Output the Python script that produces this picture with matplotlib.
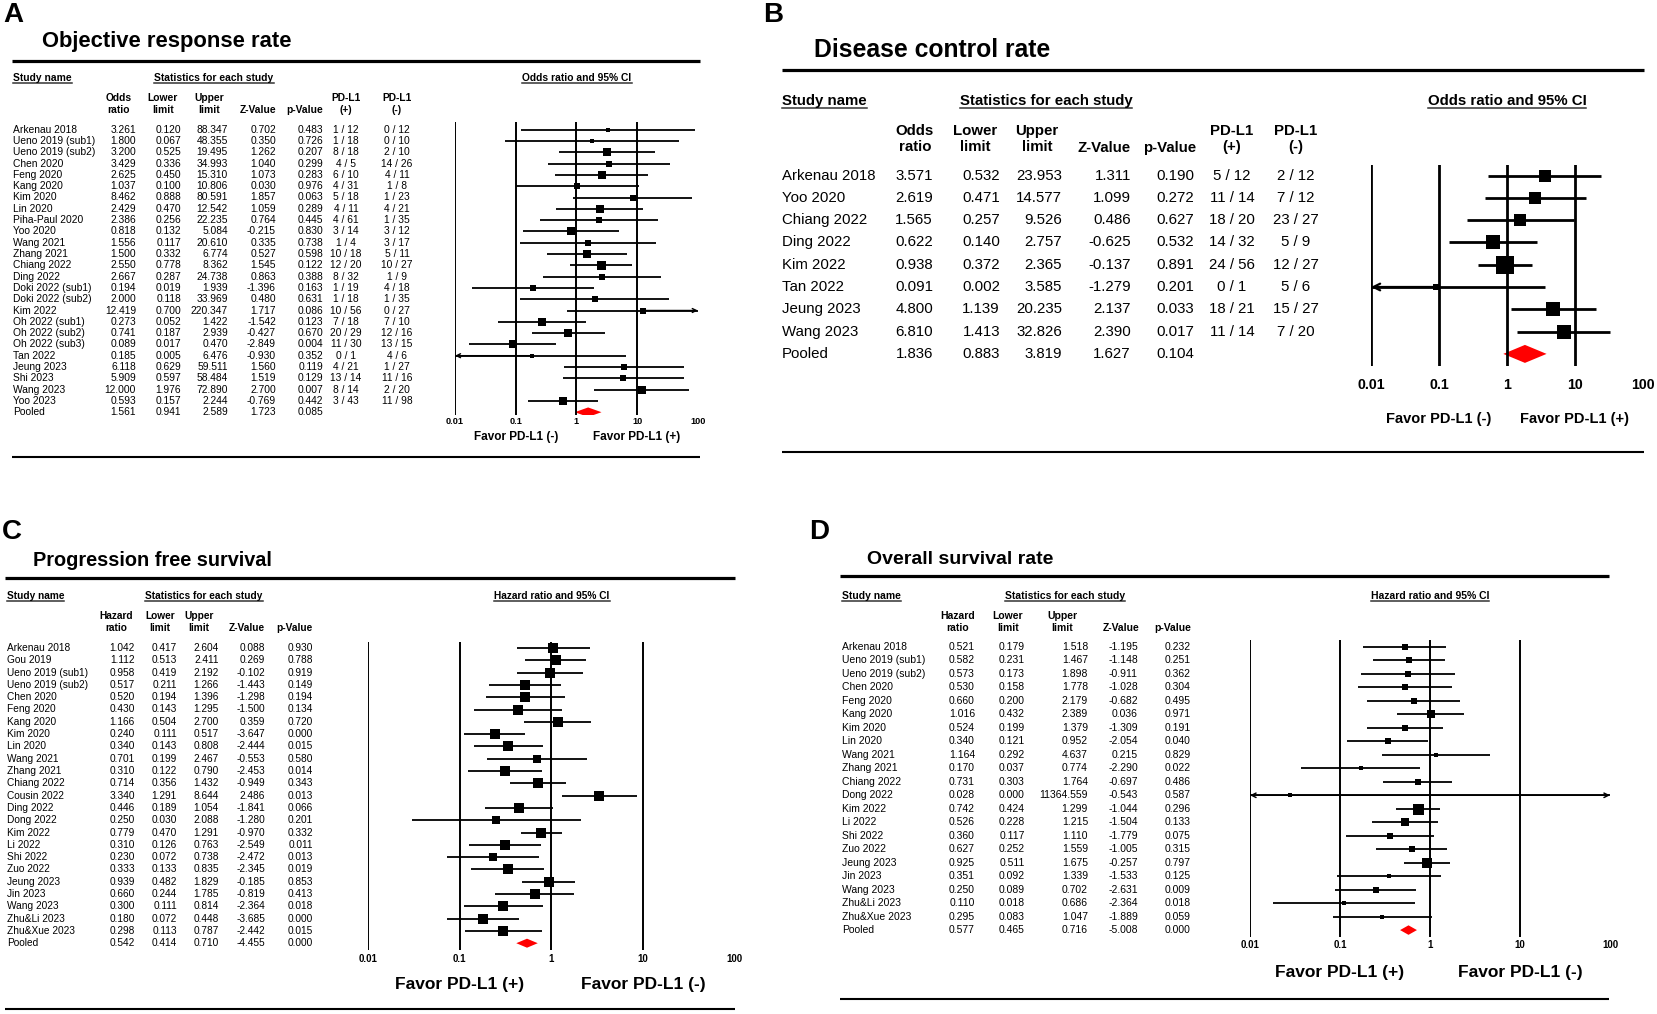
import numpy as np
import matplotlib
matplotlib.use("Agg")
import matplotlib.pyplot as plt
from matplotlib.transforms import blended_transform_factory as btf
from matplotlib.patches import Polygon
from matplotlib.lines import Line2D

# ------------------------------------------------------------------ data
tick_values = [0.01, 0.1, 1, 10, 100]
tick_labels = ["0.01", "0.1", "1", "10", "100"]

# Panel A: Objective response rate
a_study = ["Arkenau 2018", "Ueno 2019 (sub1)", "Ueno 2019 (sub2)", "Chen 2020", "Feng 2020",
           "Kang 2020", "Kim 2020", "Lin 2020", "Piha-Paul 2020", "Yoo 2020", "Wang 2021",
           "Zhang 2021", "Chiang 2022", "Ding 2022", "Doki 2022 (sub1)", "Doki 2022 (sub2)",
           "Kim 2022", "Oh 2022 (sub1)", "Oh 2022 (sub2)", "Oh 2022 (sub3)", "Tan 2022",
           "Jeung 2023", "Shi 2023", "Wang 2023", "Yoo 2023", "Pooled"]
a_or = [3.261, 1.800, 3.200, 3.429, 2.625, 1.037, 8.462, 2.429, 2.386, 0.818, 1.556, 1.500,
        2.550, 2.667, 0.194, 2.000, 12.419, 0.273, 0.741, 0.089, 0.185, 6.118, 5.909, 12.000,
        0.593, 1.561]
a_lower = [0.120, 0.067, 0.525, 0.336, 0.450, 0.100, 0.888, 0.470, 0.256, 0.132, 0.117, 0.332,
           0.778, 0.287, 0.019, 0.118, 0.700, 0.052, 0.187, 0.017, 0.005, 0.629, 0.597, 1.976,
           0.157, 0.941]
a_upper = [88.347, 48.355, 19.495, 34.993, 15.310, 10.806, 80.591, 12.542, 22.235, 5.084,
           20.610, 6.774, 8.362, 24.738, 1.939, 33.969, 220.347, 1.422, 2.939, 0.470, 6.476,
           59.511, 58.484, 72.890, 2.244, 2.589]
a_z = [0.702, 0.350, 1.262, 1.040, 1.073, 0.030, 1.857, 1.059, 0.764, -0.215, 0.335, 0.527,
       1.545, 0.863, -1.396, 0.480, 1.717, -1.542, -0.427, -2.849, -0.930, 1.560, 1.519, 2.700,
       -0.769, 1.723]
a_p = [0.483, 0.726, 0.207, 0.299, 0.283, 0.976, 0.063, 0.289, 0.445, 0.830, 0.738, 0.598,
       0.122, 0.388, 0.163, 0.631, 0.086, 0.123, 0.670, 0.004, 0.352, 0.119, 0.129, 0.007,
       0.442, 0.085]
a_pos = ["1 / 12", "1 / 18", "8 / 18", "4 / 5", "6 / 10", "4 / 31", "5 / 18", "4 / 11", "4 / 61",
         "3 / 14", "1 / 4", "10 / 18", "12 / 20", "8 / 32", "1 / 19", "1 / 18", "10 / 56",
         "7 / 18", "20 / 29", "11 / 30", "0 / 1", "4 / 21", "13 / 14", "8 / 14", "3 / 43"]
a_neg = ["0 / 12", "0 / 10", "2 / 10", "14 / 26", "4 / 11", "1 / 8", "1 / 23", "4 / 21", "1 / 35",
         "3 / 12", "3 / 17", "5 / 11", "10 / 27", "1 / 9", "4 / 18", "1 / 35", "0 / 27", "7 / 10",
         "12 / 16", "13 / 15", "4 / 6", "1 / 27", "11 / 16", "2 / 20", "11 / 98"]

# Panel B: Disease control rate
b_study = ["Arkenau 2018", "Yoo 2020", "Chiang 2022", "Ding 2022", "Kim 2022", "Tan 2022",
           "Jeung 2023", "Wang 2023", "Pooled"]
b_or = [3.571, 2.619, 1.565, 0.622, 0.938, 0.091, 4.800, 6.810, 1.836]
b_lower = [0.532, 0.471, 0.257, 0.140, 0.372, 0.002, 1.139, 1.413, 0.883]
b_upper = [23.953, 14.577, 9.526, 2.757, 2.365, 3.585, 20.235, 32.826, 3.819]
b_z = [1.311, 1.099, 0.486, -0.625, -0.137, -1.279, 2.137, 2.390, 1.627]
b_p = [0.190, 0.272, 0.627, 0.532, 0.891, 0.201, 0.033, 0.017, 0.104]
b_pos = ["5 / 12", "11 / 14", "18 / 20", "14 / 32", "24 / 56", "0 / 1", "18 / 21", "11 / 14"]
b_neg = ["2 / 12", "7 / 12", "23 / 27", "5 / 9", "12 / 27", "5 / 6", "15 / 27", "7 / 20"]

# Panel C: Progression free survival
c_study = ["Arkenau 2018", "Gou 2019", "Ueno 2019 (sub1)", "Ueno 2019 (sub2)", "Chen 2020",
           "Feng 2020", "Kang 2020", "Kim 2020", "Lin 2020", "Wang 2021", "Zhang 2021",
           "Chiang 2022", "Cousin 2022", "Ding 2022", "Dong 2022", "Kim 2022", "Li 2022",
           "Shi 2022", "Zuo 2022", "Jeung 2023", "Jin 2023", "Wang 2023", "Zhu&Li 2023",
           "Zhu&Xue 2023", "Pooled"]
c_hr = [1.042, 1.112, 0.958, 0.517, 0.520, 0.430, 1.166, 0.240, 0.340, 0.701, 0.310, 0.714,
        3.340, 0.446, 0.250, 0.779, 0.310, 0.230, 0.333, 0.939, 0.660, 0.300, 0.180, 0.298, 0.542]
c_lower = [0.417, 0.513, 0.419, 0.211, 0.194, 0.143, 0.504, 0.111, 0.143, 0.199, 0.122, 0.356,
           1.291, 0.189, 0.030, 0.470, 0.126, 0.072, 0.133, 0.482, 0.244, 0.111, 0.072, 0.113,
           0.414]
c_upper = [2.604, 2.411, 2.192, 1.266, 1.396, 1.295, 2.700, 0.517, 0.808, 2.467, 0.790, 1.432,
           8.644, 1.054, 2.088, 1.291, 0.763, 0.738, 0.835, 1.829, 1.785, 0.814, 0.448, 0.787,
           0.710]
c_z = [0.088, 0.269, -0.102, -1.443, -1.298, -1.500, 0.359, -3.647, -2.444, -0.553, -2.453,
       -0.949, 2.486, -1.841, -1.280, -0.970, -2.549, -2.472, -2.345, -0.185, -0.819, -2.364,
       -3.685, -2.442, -4.455]
c_p = [0.930, 0.788, 0.919, 0.149, 0.194, 0.134, 0.720, 0.000, 0.015, 0.580, 0.014, 0.343,
       0.013, 0.066, 0.201, 0.332, 0.011, 0.013, 0.019, 0.853, 0.413, 0.018, 0.000, 0.015, 0.000]

# Panel D: Overall survival rate
d_study = ["Arkenau 2018", "Ueno 2019 (sub1)", "Ueno 2019 (sub2)", "Chen 2020", "Feng 2020",
           "Kang 2020", "Kim 2020", "Lin 2020", "Wang 2021", "Zhang 2021", "Chiang 2022",
           "Dong 2022", "Kim 2022", "Li 2022", "Shi 2022", "Zuo 2022", "Jeung 2023", "Jin 2023",
           "Wang 2023", "Zhu&Li 2023", "Zhu&Xue 2023", "Pooled"]
d_hr = [0.521, 0.582, 0.573, 0.530, 0.660, 1.016, 0.524, 0.340, 1.164, 0.170, 0.731, 0.028,
        0.742, 0.526, 0.360, 0.627, 0.925, 0.351, 0.250, 0.110, 0.295, 0.577]
d_lower = [0.179, 0.231, 0.173, 0.158, 0.200, 0.432, 0.199, 0.121, 0.292, 0.037, 0.303, 0.000,
           0.424, 0.228, 0.117, 0.252, 0.511, 0.092, 0.089, 0.018, 0.083, 0.465]
d_upper = [1.518, 1.467, 1.898, 1.778, 2.179, 2.389, 1.379, 0.952, 4.637, 0.774, 1.764,
           11364.559, 1.299, 1.215, 1.110, 1.559, 1.675, 1.339, 0.702, 0.686, 1.047, 0.716]
d_z = [-1.195, -1.148, -0.911, -1.028, -0.682, 0.036, -1.309, -2.054, 0.215, -2.290, -0.697,
       -0.543, -1.044, -1.504, -1.779, -1.005, -0.257, -1.533, -2.631, -2.364, -1.889, -5.008]
d_p = [0.232, 0.251, 0.362, 0.304, 0.495, 0.971, 0.191, 0.040, 0.829, 0.022, 0.486, 0.587,
       0.296, 0.133, 0.075, 0.315, 0.797, 0.125, 0.009, 0.018, 0.059, 0.000]

# ------------------------------------------------------------------ figure
W, H = 1658, 1014
plt.rcParams['font.family'] = ['Liberation Sans', 'DejaVu Sans']
fig = plt.figure(figsize=(W / 100, H / 100), dpi=100)
fig.patch.set_facecolor('white')


def fx(p):
    return p / W


def fy(p):
    return 1 - p / H


underlined = []


def ftext(x, y, s, under=False, **kw):
    kw.setdefault('va', 'center')
    t = fig.text(fx(x), fy(y), s, **kw)
    if under:
        underlined.append(t)
    return t


def hrule(x0, x1, y, lw):
    fig.add_artist(Line2D([fx(x0), fx(x1)], [fy(y), fy(y)], transform=fig.transFigure,
                          color='black', lw=lw, solid_capstyle='butt'))


def draw_panel(cfg, names, est, lo, hi, zv, pv, pos=None, neg=None):
    row0, step, top, bot = cfg['row0'], cfg['step'], cfg['top'], cfg['bot']
    x0, dec = cfg['x0'], cfg['dec']
    ax = fig.add_axes([fx(x0), fy(bot), 4 * dec / W, (bot - top) / H])
    ax.set_xscale('log')
    ax.set_xlim(0.01, 100)
    ax.set_ylim((bot - row0) / step, (top - row0) / step)
    ax.set_axis_off()
    for v in tick_values[:-1]:
        ax.axvline(v, color='black', lw=cfg['vlw'])
    n = len(names)
    k = n - 1
    est_a, lo_a, hi_a = np.array(est), np.array(lo), np.array(hi)
    safe_lo = np.where(lo_a > 0, lo_a, 1.0)
    se = np.where(lo_a > 0, (np.log(hi_a) - np.log(safe_lo)) / 3.92,
                  (np.log(hi_a) - np.log(est_a)) / 1.96)
    w = 1.0 / (se ** 2 + cfg['tau2'])
    side = np.maximum(cfg['smin'], cfg['smax'] * np.sqrt(w / w[:k].max()))
    for i in range(k):
        a = max(lo[i], 0.01)
        b = min(hi[i], 100)
        ax.plot([a, b], [i, i], color='black', lw=cfg['lw'], solid_capstyle='butt')
        if lo[i] < 0.01:
            ax.annotate('', xy=(0.01, i), xytext=(est[i], i), annotation_clip=False,
                        arrowprops=dict(arrowstyle='->', lw=cfg['lw'] * 0.8, color='black',
                                        shrinkA=0, shrinkB=0, mutation_scale=cfg['ams']))
        if hi[i] > 100:
            ax.annotate('', xy=(100, i), xytext=(est[i], i), annotation_clip=False,
                        arrowprops=dict(arrowstyle='->', lw=cfg['lw'] * 0.8, color='black',
                                        shrinkA=0, shrinkB=0, mutation_scale=cfg['ams']))
        ax.plot(est[i], i, marker='s', ms=side[i] * 0.72, color='black', mew=0, clip_on=False)
    r = k
    h = cfg['dh'] / cfg['step'] / 2
    ax.add_patch(Polygon([(lo[r], r), (est[r], r - h), (hi[r], r), (est[r], r + h)],
                         closed=True, fc='#ff0000', ec='none'))

    tr = btf(fig.transFigure, ax.transData)
    fs = cfg['fs']
    for i in range(n):
        ax.text(fx(cfg['name_x']), i, names[i], transform=tr, ha='left', va='center', fontsize=fs)
        for vals, xr in zip((est, lo, hi, zv, pv), cfg['cols']):
            ax.text(fx(xr), i, f"{vals[i]:.3f}", transform=tr, ha='right', va='center',
                    fontsize=fs)
        if pos is not None and i < k:
            ax.text(fx(cfg['pos_x']), i, pos[i], transform=tr, ha='center', va='center',
                    fontsize=fs)
            ax.text(fx(cfg['neg_x']), i, neg[i], transform=tr, ha='center', va='center',
                    fontsize=fs)

    trx = btf(ax.transData, fig.transFigure)
    for v, lab in zip(tick_values, tick_labels):
        ax.text(v, fy(cfg['tick_y']), lab, transform=trx, ha='center', va='center',
                fontsize=cfg['tfs'], fontweight='bold')
    ax.text(0.1, fy(cfg['fav_y']), cfg['fav'][0], transform=trx, ha='center', va='center',
            fontsize=cfg['ffs'], fontweight='bold')
    ax.text(10, fy(cfg['fav_y']), cfg['fav'][1], transform=trx, ha='center', va='center',
            fontsize=cfg['ffs'], fontweight='bold')
    return ax


def headers(cfg, letter, title, eff_label, col_heads):
    ftext(cfg['letter_xy'][0], cfg['letter_xy'][1], letter, fontsize=20, fontweight='bold')
    ftext(cfg['title_xy'][0], cfg['title_xy'][1], title, fontsize=cfg['title_fs'],
          fontweight='bold')
    hrule(cfg['rule_x'][0], cfg['rule_x'][1], cfg['rule_top'], 2.3)
    hrule(cfg['rule_x'][0], cfg['rule_x'][1], cfg['rule_bot'], 1.5)
    hy = cfg['head_y']
    fs = cfg['fs']
    ftext(cfg['name_x'], hy, "Study name", under=True, fontsize=fs, fontweight='bold')
    ftext(cfg['stats_x'], hy, "Statistics for each study", under=True, fontsize=fs,
          fontweight='bold', ha='center')
    ftext(cfg['eff_x'], hy, eff_label, under=True, fontsize=fs, fontweight='bold', ha='center')
    y1, y2 = cfg['col_y']
    for label, (x, ha) in zip(col_heads, cfg['col_head_x']):
        if "\n" in label:
            ftext(x, (y1 + y2) / 2, label, fontsize=fs, fontweight='bold', ha=ha,
                  multialignment='center', linespacing=1.2)
        else:
            ftext(x, y2, label, fontsize=fs, fontweight='bold', ha=ha)


cfgA = dict(row0=129.7, step=11.3, top=122, bot=415, x0=455, dec=60.7, vlw=1.4, lw=1.3,
            tau2=0.5, smax=9, smin=4.3, dh=9.5, fs=7.4, name_x=13,
            cols=[136, 181, 228, 276, 323], pos_x=346, neg_x=397, tick_y=422, tfs=6.6,
            fav_y=437, ffs=8.5, ams=7, fav=("Favor PD-L1 (-)", "Favor PD-L1 (+)"),
            letter_xy=(3, 15), title_xy=(42, 42), title_fs=15.8, rule_x=(12, 700),
            rule_top=61, rule_bot=457, head_y=78, stats_x=214, eff_x=577, col_y=(98, 110),
            col_head_x=[(119, 'center'), (163, 'center'), (209, 'center'), (276, 'right'),
                        (323, 'right'), (346, 'center'), (397, 'center')])
cfgB = dict(row0=175.5, step=22.3, top=165, bot=366, x0=1371, dec=68, vlw=2.0, lw=2.0,
            tau2=0.3, smax=18, smin=6.5, dh=18, fs=10.8, name_x=782,
            cols=[933, 1000, 1062, 1131, 1194], pos_x=1232, neg_x=1296, tick_y=385, tfs=10.2,
            fav_y=419, ffs=10.5, ams=12, fav=("Favor PD-L1 (-)", "Favor PD-L1 (+)"),
            letter_xy=(763, 15), title_xy=(814, 50), title_fs=17.8, rule_x=(782, 1644),
            rule_top=70, rule_bot=452, head_y=101, stats_x=1046, eff_x=1507, col_y=(130, 148),
            col_head_x=[(915, 'center'), (975, 'center'), (1037, 'center'), (1131, 'right'),
                        (1196, 'right'), (1232, 'center'), (1296, 'center')])
cfgC = dict(row0=648, step=12.3, top=642, bot=950, x0=368, dec=91.7, vlw=1.4, lw=1.3,
            tau2=1.0, smax=10, smin=5, dh=9, fs=7.3, name_x=7,
            cols=[135, 177, 219, 265, 313], tick_y=959, tfs=7,
            fav_y=984, ffs=12.5, ams=8, fav=("Favor PD-L1 (+)", "Favor PD-L1 (-)"),
            letter_xy=(2, 532), title_xy=(33, 561), title_fs=14.3, rule_x=(5, 735),
            rule_top=578, rule_bot=1009, head_y=596, stats_x=204, eff_x=552, col_y=(616, 628),
            col_head_x=[(116, 'center'), (160, 'center'), (199, 'center'), (265, 'right'),
                        (313, 'right')])
cfgD = dict(row0=647, step=13.48, top=640, bot=937, x0=1250, dec=90, vlw=1.4, lw=1.3,
            tau2=0.0, smax=11, smin=5, dh=9.5, fs=7.5, name_x=842,
            cols=[975, 1025, 1088, 1138, 1191], tick_y=945, tfs=7,
            fav_y=972, ffs=12.5, ams=8, fav=("Favor PD-L1 (+)", "Favor PD-L1 (-)"),
            letter_xy=(809, 532), title_xy=(867, 560), title_fs=14.0, rule_x=(840, 1609),
            rule_top=576, rule_bot=999, head_y=596, stats_x=1065, eff_x=1430, col_y=(616, 628),
            col_head_x=[(958, 'center'), (1008, 'center'), (1062, 'center'), (1140, 'right'),
                        (1191, 'right')])

or_heads = ["Odds\nratio", "Lower\nlimit", "Upper\nlimit", "Z-Value", "p-Value",
            "PD-L1\n(+)", "PD-L1\n(-)"]
hr_heads = ["Hazard\nratio", "Lower\nlimit", "Upper\nlimit", "Z-Value", "p-Value"]

headers(cfgA, "A", "Objective response rate", "Odds ratio and 95% CI", or_heads)
draw_panel(cfgA, a_study, a_or, a_lower, a_upper, a_z, a_p, a_pos, a_neg)
headers(cfgB, "B", "Disease control rate", "Odds ratio and 95% CI", or_heads)
draw_panel(cfgB, b_study, b_or, b_lower, b_upper, b_z, b_p, b_pos, b_neg)
headers(cfgC, "C", "Progression free survival", "Hazard ratio and 95% CI", hr_heads)
draw_panel(cfgC, c_study, c_hr, c_lower, c_upper, c_z, c_p)
headers(cfgD, "D", "Overall survival rate", "Hazard ratio and 95% CI", hr_heads)
draw_panel(cfgD, d_study, d_hr, d_lower, d_upper, d_z, d_p)

# underlines below selected header texts
fig.canvas.draw()
renderer = fig.canvas.get_renderer()
for t in underlined:
    bb = t.get_window_extent(renderer)
    yy = (bb.y0 + 0.5) / H
    fig.add_artist(Line2D([bb.x0 / W, bb.x1 / W], [yy, yy], transform=fig.transFigure,
                          color='#333333', lw=1.1))

fig.savefig("out.png", dpi=100, facecolor='white')
